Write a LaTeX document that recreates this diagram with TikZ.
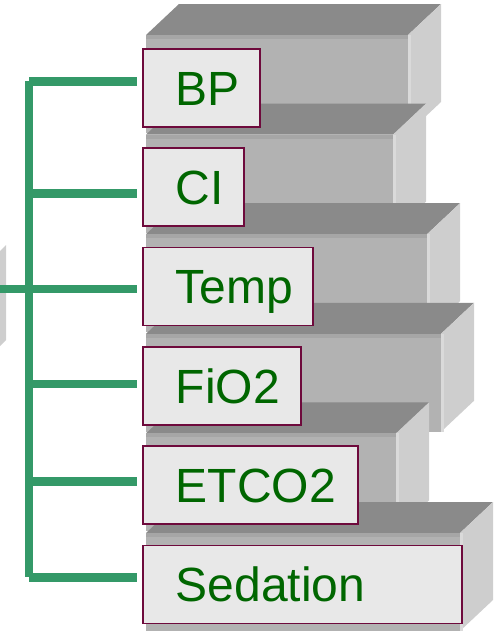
\documentclass[tikz,border=0pt]{standalone}
\usepackage{fontspec}
\setmainfont{Liberation Sans}
\usepackage{xcolor}
\usetikzlibrary{positioning}
\definecolor{verdeTexto}{HTML}{006600}
\definecolor{verdeRama}{HTML}{349968}
\definecolor{borde}{HTML}{6E0A3C}
\definecolor{fondo}{HTML}{E8E8E8}
\definecolor{grisTapa}{HTML}{8A8A8A}
\definecolor{grisFrente}{HTML}{B2B2B2}
\definecolor{grisFilo}{HTML}{A6A6A6}
\definecolor{grisLado}{HTML}{CECECE}
\definecolor{grisBrillo}{HTML}{DADADA}

\begin{document}
\begin{tikzpicture}[x=1pt,y=-1pt,
                    etiqueta/.style={draw=borde,line width=1.6pt,fill=fondo,inner xsep=0pt,align=left,minimum height=78pt,
                                     text height=35pt,text depth=0pt,text=verdeTexto,font=\fontsize{48}{58}\selectfont},
                    rama/.style={draw=verdeRama,line width=8.5pt},node distance=19.7pt]
  \useasboundingbox (0,0) rectangle (498,632);
  % bloques en relieve
  \foreach \i/\r in {0/408,1/393,2/427,3/441,4/396,5/460}{
    \pgfmathsetmacro{\yb}{4+99.6*\i}
    \pgfmathsetmacro{\yf}{\yb+31}
    \fill[grisTapa] (146,\yf) -- (179,\yb) -- (\r+33,\yb) -- (\r,\yf) -- cycle;
    \fill[grisFrente] (146,\yf) rectangle (\r,\yf+98);
    \fill[grisFilo] (146,\yf) rectangle (\r,\yf+4);
    \fill[grisLado] (\r,\yf) -- (\r+33,\yb) -- (\r+33,\yb+98) -- (\r,\yf+98) -- cycle;
    \fill[grisBrillo] (\r,\yf) rectangle (\r+3,\yf+98);
  }
  \fill[grisLado] (0,251) -- (6,245) -- (6,340) -- (0,346) -- cycle;
  % etiquetas
  \node[etiqueta,text width=117pt,anchor=north west] (bp) at (142,48) {\hspace*{33pt}BP};
  \node[etiqueta,text width=101pt,below=of bp.south west,anchor=north west] (ci) {\hspace*{33pt}CI};
  \node[etiqueta,text width=170pt,below=of ci.south west,anchor=north west] (temp) {\hspace*{33pt}Temp};
  \node[etiqueta,text width=158pt,below=of temp.south west,anchor=north west] (fio) {\hspace*{33pt}FiO2};
  \node[etiqueta,text width=215pt,below=of fio.south west,anchor=north west] (etco) {\hspace*{33pt}ETCO2};
  \node[etiqueta,text width=319pt,below=of etco.south west,anchor=north west] (sed) {\hspace*{33pt}Sedation};
  % ramas
  \coordinate (tronco) at (29,0);
  \foreach \n/\d in {bp/6.5,ci/-6.5,temp/-2.5,fio/1.5,etco/3.5,sed/7}
    \coordinate (r-\n) at ([xshift=-5pt,yshift=\d pt]\n.west);
  \draw[rama] (tronco |- r-bp) -- (tronco |- r-sed);
  \foreach \n in {bp,ci,fio,etco,sed}
    \draw[rama] (tronco |- r-\n) -- (r-\n);
  \draw[rama] (r-temp -| 0,0) -- (r-temp);
\end{tikzpicture}
\end{document}
